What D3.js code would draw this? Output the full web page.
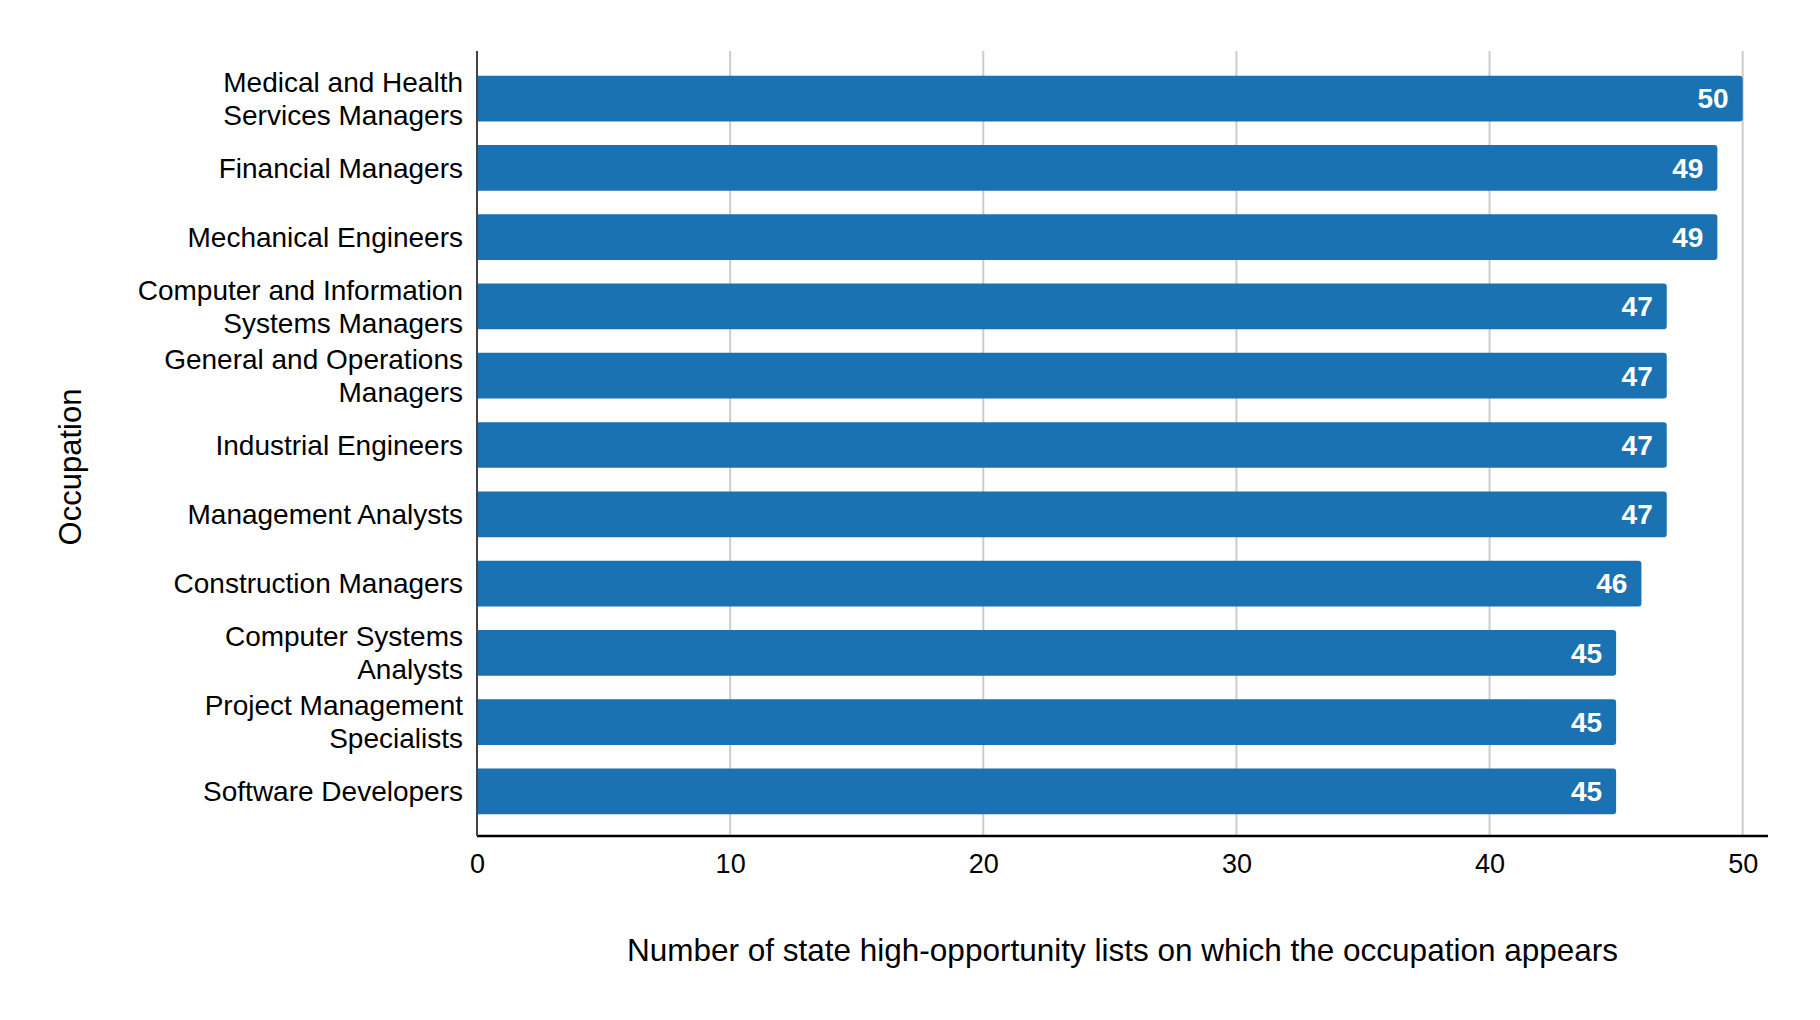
<!DOCTYPE html>
<html>
<head>
<meta charset="utf-8">
<script src="https://cdn.jsdelivr.net/npm/d3@7"></script>
<style>
    html, body { margin: 0; padding: 0; background: #fff; }
    svg { display: block; font-family: "Liberation Sans", Arial, sans-serif; }
</style>
</head>
<body>
<div id="chart"></div>
<script>
// Occupation labels ("|" marks a line break as in the source chart)
const occupations = [
    'Medical and Health|Services Managers',
    'Financial Managers',
    'Mechanical Engineers',
    'Computer and Information|Systems Managers',
    'General and Operations|Managers',
    'Industrial Engineers',
    'Management Analysts',
    'Construction Managers',
    'Computer Systems|Analysts',
    'Project Management|Specialists',
    'Software Developers'
];
const listCounts = [50, 49, 49, 47, 47, 47, 47, 46, 45, 45, 45];
const xTicks = [0, 10, 20, 30, 40, 50];

const xTitle = 'Number of state high-opportunity lists on which the occupation appears';
const yTitle = 'Occupation';

const width = 1820;
const height = 1020;
const plot = { left: 477, right: 1768, top: 51, bottom: 836 };
const barColor = '#1b72b2';

const data = occupations.map((d, i) => ({ label: d, value: listCounts[i] }));

const svg = d3.select('#chart').append('svg')
    .attr('width', width)
    .attr('height', height);

const x = d3.scaleLinear()
    .domain([0, 51])
    .range([plot.left, plot.right]);

const y = d3.scaleBand()
    .domain(occupations)
    .range([64, 826])
    .paddingInner(0.34)
    .paddingOuter(0.17);

// vertical grid lines
svg.append('g')
    .selectAll('line')
    .data(xTicks.filter(t => t > 0))
    .enter()
    .append('line')
    .attr('x1', d => x(d))
    .attr('x2', d => x(d))
    .attr('y1', plot.top)
    .attr('y2', plot.bottom)
    .attr('stroke', '#cccccc')
    .attr('stroke-width', 2);

// bars, square on the left, slightly rounded on the right
const r = 3;
svg.append('g')
    .selectAll('path')
    .data(data)
    .enter()
    .append('path')
    .attr('fill', barColor)
    .attr('d', d => {
        const x0 = x(0), x1 = x(d.value);
        const y0 = y(d.label), y1 = y0 + y.bandwidth();
        return `M${x0},${y0}H${x1 - r}Q${x1},${y0} ${x1},${y0 + r}` +
            `V${y1 - r}Q${x1},${y1} ${x1 - r},${y1}H${x0}Z`;
    });

// value labels inside bar ends
svg.append('g')
    .selectAll('text')
    .data(data)
    .enter()
    .append('text')
    .attr('x', d => x(d.value) - 14)
    .attr('y', d => y(d.label) + y.bandwidth() / 2)
    .attr('dy', '0.35em')
    .attr('text-anchor', 'end')
    .attr('fill', '#fff')
    .attr('font-weight', 'bold')
    .attr('font-size', '28px')
    .text(d => d.value);

// x axis
const xAxis = svg.append('g')
    .attr('transform', `translate(0,${plot.bottom})`)
    .call(d3.axisBottom(x).tickValues(xTicks).tickSize(0).tickPadding(18));
xAxis.select('.domain')
    .attr('d', `M${plot.left},0H${plot.right}`)
    .attr('stroke', '#000')
    .attr('stroke-width', 2.5);
xAxis.selectAll('text')
    .attr('font-size', '27px')
    .attr('font-family', '"Liberation Sans", Arial, sans-serif')
    .attr('fill', '#000');

// y axis line
svg.append('line')
    .attr('x1', plot.left)
    .attr('x2', plot.left)
    .attr('y1', plot.top)
    .attr('y2', plot.bottom)
    .attr('stroke', '#444')
    .attr('stroke-width', 2);

// category labels
svg.append('g')
    .selectAll('text')
    .data(data)
    .enter()
    .append('text')
    .attr('x', 463)
    .attr('text-anchor', 'end')
    .attr('font-size', '28px')
    .attr('fill', '#000')
    .each(function (d) {
        const lines = d.label.split('|');
        const cy = y(d.label) + y.bandwidth() / 2;
        const lineH = 33;
        const first = cy - (lines.length - 1) * lineH / 2;
        d3.select(this).selectAll('tspan')
            .data(lines)
            .enter()
            .append('tspan')
            .attr('x', 463)
            .attr('y', (l, i) => first + i * lineH)
            .attr('dy', '0.35em')
            .text(l => l);
    });

// axis titles
svg.append('text')
    .attr('x', (plot.left + plot.right) / 2)
    .attr('y', 961)
    .attr('text-anchor', 'middle')
    .attr('font-size', '31.5px')
    .attr('fill', '#000')
    .text(xTitle);

svg.append('text')
    .attr('transform', 'translate(70,467) rotate(-90)')
    .attr('dy', '0.35em')
    .attr('text-anchor', 'middle')
    .attr('font-size', '31px')
    .attr('fill', '#000')
    .text(yTitle);
</script>
</body>
</html>
